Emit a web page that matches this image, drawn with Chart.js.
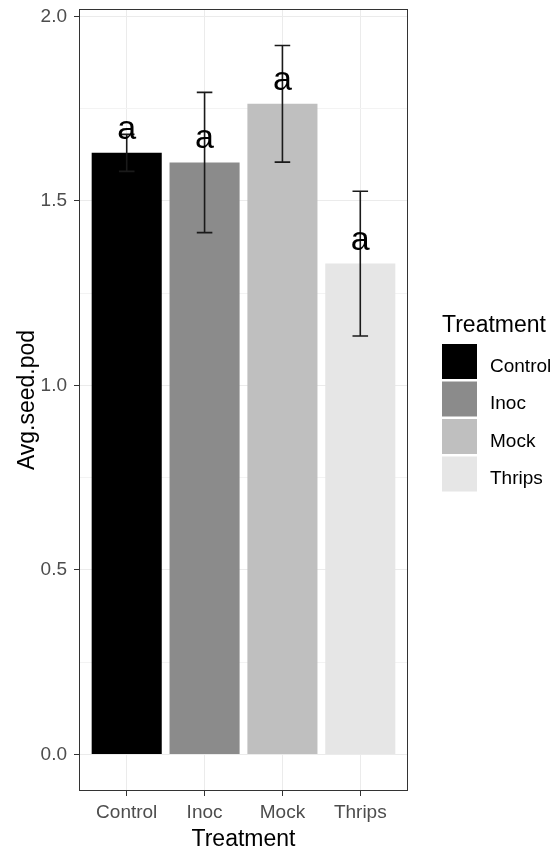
<!DOCTYPE html>
<html><head><meta charset="utf-8">
<script src="https://cdn.jsdelivr.net/npm/chart.js@4.4.1/dist/chart.umd.min.js"></script>
<style>html,body{margin:0;padding:0;background:#fff;} #wrap{position:relative;width:556px;height:854px;}</style>
</head><body><div id="wrap"><canvas id="c" width="556" height="854"></canvas></div>
<script>
// ---- data ----
const categories = ['Control', 'Inoc', 'Mock', 'Thrips'];
const meanValues = [1.630, 1.604, 1.763, 1.330];
const errorValues = [0.05, 0.19, 0.158, 0.196];
const letterLabels = ['a', 'a', 'a', 'a'];
const fillColors = ['#000000', '#8B8B8B', '#BFBFBF', '#E6E6E6'];
const yTickValues = [0, 0.25, 0.5, 0.75, 1, 1.25, 1.5, 1.75, 2];
const yMajorTicks = [0, 0.5, 1, 1.5, 2];
const legendTitle = 'Treatment';
const xTitle = 'Treatment';
const yTitle = 'Avg.seed.pod';

const FONT = "'Liberation Sans', Arial, Helvetica, sans-serif";
const isMajor = v => yMajorTicks.some(m => Math.abs(m - v) < 1e-9);

// ggplot-like expansion
const yTop = Math.max(...meanValues.map((m, i) => m + errorValues[i]));
const yMin = -0.05 * yTop, yMax = yTop * 1.05;
const xMin = 1 - 0.6, xMax = categories.length + 0.6;
const errHalfWidth = 0.1;

const overlay = {
  id: 'overlay',
  afterDatasetsDraw(chart) {
    const { ctx, scales: { x, y }, chartArea: a } = chart;
    ctx.save();
    ctx.strokeStyle = '#1A1A1A';
    ctx.lineWidth = 1.6;
    categories.forEach((c, i) => {
      const cx = x.getPixelForValue(i + 1);
      const hw = x.getPixelForValue(i + 1 + errHalfWidth) - cx;
      const yt = y.getPixelForValue(meanValues[i] + errorValues[i]);
      const yb = y.getPixelForValue(meanValues[i] - errorValues[i]);
      ctx.beginPath();
      ctx.moveTo(cx, yt); ctx.lineTo(cx, yb);
      ctx.moveTo(cx - hw, yt); ctx.lineTo(cx + hw, yt);
      ctx.moveTo(cx - hw, yb); ctx.lineTo(cx + hw, yb);
      ctx.stroke();
    });
    ctx.fillStyle = '#000';
    ctx.font = '34px ' + FONT;
    ctx.textAlign = 'center';
    ctx.textBaseline = 'alphabetic';
    categories.forEach((c, i) => {
      ctx.fillText(letterLabels[i], x.getPixelForValue(i + 1), y.getPixelForValue(meanValues[i]) - 14);
    });
    ctx.strokeStyle = '#333333';
    ctx.lineWidth = 1;
    ctx.strokeRect(Math.round(a.left) - 0.5, Math.round(a.top) - 0.5, Math.round(a.right - a.left) + 1, Math.round(a.bottom - a.top) + 1);
    ctx.restore();
  },
  afterDraw(chart) {
    const { ctx } = chart;
    ctx.save();
    ctx.textAlign = 'left';
    ctx.textBaseline = 'alphabetic';
    ctx.fillStyle = '#000';
    ctx.font = '23px ' + FONT;
    ctx.fillText(legendTitle, 442, 331.5);
    ctx.font = '19px ' + FONT;
    categories.forEach((c, i) => {
      const top = 344 + i * 37.5;
      ctx.fillStyle = fillColors[i];
      ctx.fillRect(442, top, 35, 35);
      ctx.fillStyle = '#000';
      ctx.fillText(c, 490, top + 27.5);
    });
    ctx.restore();
  }
};

new Chart(document.getElementById('c'), {
  type: 'bar',
  data: {
    datasets: [{
      data: categories.map((c, i) => ({ x: i + 1, y: meanValues[i] })),
      backgroundColor: fillColors,
      borderWidth: 0,
      categoryPercentage: 1,
      barPercentage: 0.9
    }]
  },
  options: {
    responsive: false,
    animation: false,
    devicePixelRatio: 1,
    layout: { padding: { top: 10, right: 149, bottom: 0, left: 0 } },
    plugins: { legend: { display: false }, tooltip: { enabled: false } },
    scales: {
      x: {
        type: 'linear', min: xMin, max: xMax, offset: false,
        afterBuildTicks: s => { s.ticks = categories.map((c, i) => ({ value: i + 1 })); },
        afterFit: s => { s.height = 64; s.paddingLeft = 0; s.paddingRight = 0; },
        grid: { offset: false, color: '#EBEBEB', lineWidth: 1, tickColor: '#333333', tickLength: 6, tickWidth: 1 },
        border: { display: false },
        ticks: { callback: v => categories[v - 1], color: '#4D4D4D', font: { family: FONT, size: 19 }, padding: 5, autoSkip: false, maxRotation: 0 },
        title: { display: true, text: xTitle, color: '#000', font: { family: FONT, size: 23 }, padding: { top: 0, bottom: 1 } }
      },
      y: {
        type: 'linear', min: yMin, max: yMax,
        afterBuildTicks: s => { s.ticks = yTickValues.map(v => ({ value: v })); },
        afterFit: s => { s.width = 80; s.paddingTop = 0; s.paddingBottom = 0; },
        grid: {
          color: c => (c.tick && isMajor(c.tick.value)) ? '#EBEBEB' : '#F3F3F3',
          lineWidth: 1,
          tickColor: c => (c.tick && isMajor(c.tick.value)) ? '#333333' : 'rgba(0,0,0,0)',
          tickLength: 6, tickWidth: 1
        },
        border: { display: false },
        ticks: { callback: v => isMajor(v) ? v.toFixed(1) : '', color: '#4D4D4D', font: { family: FONT, size: 19 }, padding: 7, autoSkip: false },
        title: { display: true, text: yTitle, color: '#000', font: { family: FONT, size: 23 }, padding: { top: 14, bottom: 0 } }
      }
    }
  },
  plugins: [overlay]
});
</script></body></html>
